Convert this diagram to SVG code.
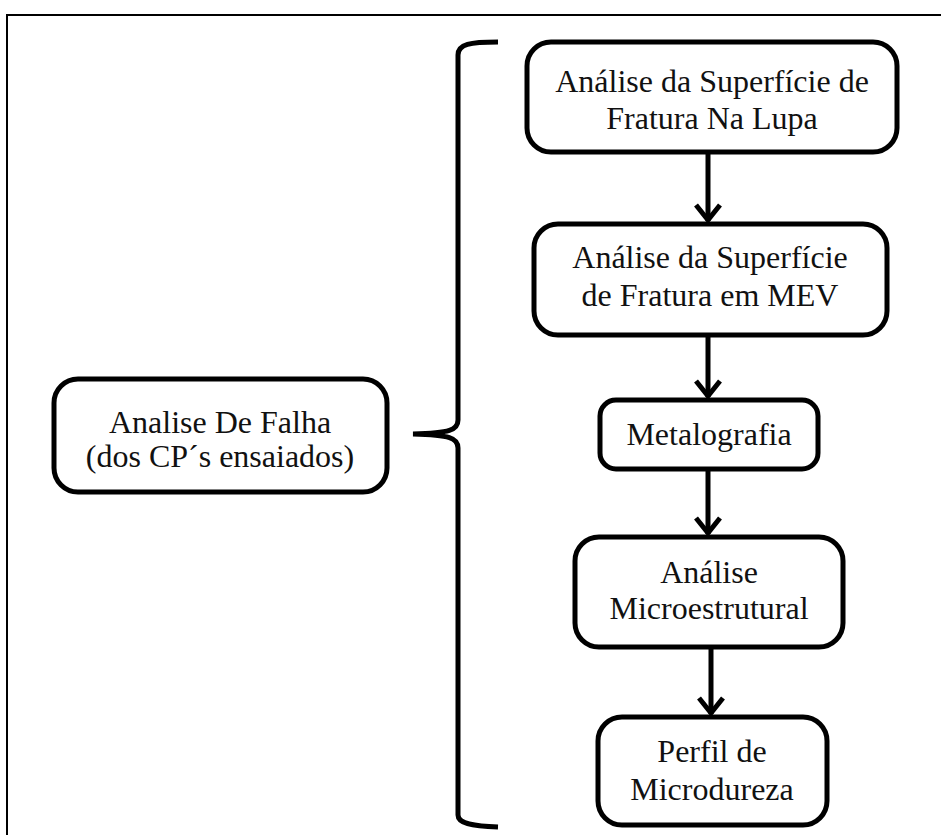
<svg xmlns="http://www.w3.org/2000/svg" width="941" height="835" viewBox="0 0 941 835">
<defs>
<style>
.box{fill:#fff;stroke:#000;stroke-width:5}
.t{font-family:"Liberation Serif","Times New Roman",serif;font-size:32px;fill:#111;text-anchor:middle}
.con{fill:none;stroke:#000;stroke-width:5}
</style>
<marker id="ah" markerUnits="userSpaceOnUse" markerWidth="40" markerHeight="40" refX="0" refY="0" orient="auto" overflow="visible">
<path d="M -16,-12 L -1,0 L -16,12" fill="none" stroke="#000" stroke-width="5" stroke-linejoin="miter"/>
</marker>
</defs>
<rect x="0" y="0" width="941" height="835" fill="#fff"/>
<rect x="7" y="15" width="1000" height="900" fill="none" stroke="#000" stroke-width="2"/>
<g id="connectors">
<path class="con" d="M 498,42 C 470,42 458,44 458,55 L 458,420 C 458,430 450,433 413,434 C 450,435 458,438 458,448 L 458,815 C 458,823 470,826 498,827"/>
<line class="con" x1="708" y1="152" x2="708" y2="221" marker-end="url(#ah)"/>
<line class="con" x1="708" y1="337" x2="708" y2="397" marker-end="url(#ah)"/>
<line class="con" x1="708" y1="471" x2="708" y2="534" marker-end="url(#ah)"/>
<line class="con" x1="711" y1="649" x2="711" y2="714" marker-end="url(#ah)"/>
</g>
<g id="n1">
<rect class="box" x="527" y="42" width="370" height="110" rx="24"/>
<text class="t" x="712" y="92">Análise da Superfície de</text>
<text class="t" x="712" y="129">Fratura Na Lupa</text>
</g>
<g id="n2">
<rect class="box" x="534" y="224" width="353" height="111" rx="24"/>
<text class="t" x="710" y="268">Análise da Superfície</text>
<text class="t" x="710" y="306">de Fratura em MEV</text>
</g>
<g id="n3">
<rect class="box" x="600" y="400" width="218" height="69" rx="16"/>
<text class="t" x="709" y="445">Metalografia</text>
</g>
<g id="n4">
<rect class="box" x="575" y="537" width="268" height="110" rx="24"/>
<text class="t" x="709" y="583">Análise</text>
<text class="t" x="709" y="619">Microestrutural</text>
</g>
<g id="n5">
<rect class="box" x="598" y="717" width="229" height="108" rx="24"/>
<text class="t" x="712" y="762">Perfil de</text>
<text class="t" x="712" y="800">Microdureza</text>
</g>
<g id="n0">
<rect class="box" x="54" y="379" width="333" height="113" rx="24"/>
<text class="t" x="220" y="433">Analise De Falha</text>
<text class="t" x="220" y="467">(dos CP´s ensaiados)</text>
</g>
</svg>
